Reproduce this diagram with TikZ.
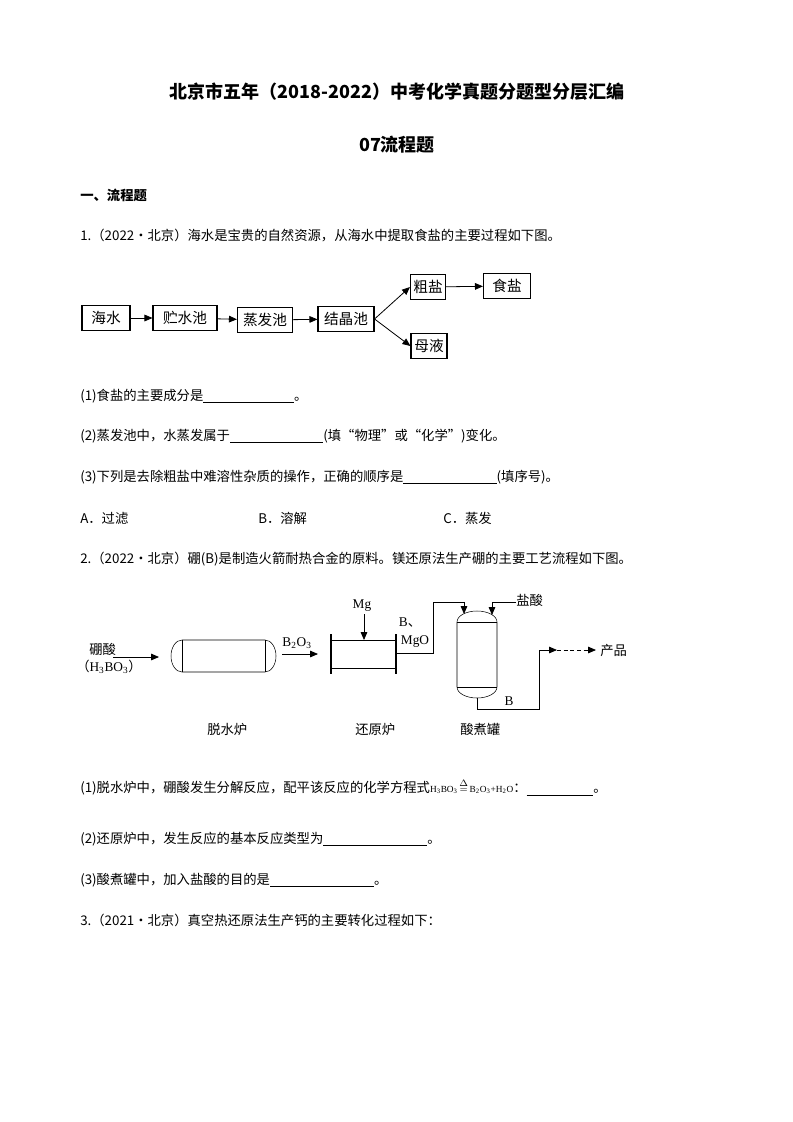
\documentclass[tikz,border=0pt]{standalone}
\usepackage{fontspec}
\setmainfont{Liberation Serif}
\newfontfamily\cjk{Noto Sans CJK SC}
\usetikzlibrary{arrows.meta}
\begin{document}
\begin{tikzpicture}[x=0.75pt,y=-0.75pt,
  box/.style={draw,thick,minimum height=19pt,inner sep=2pt,font=\cjk\fontsize{11}{12}\selectfont},
  ar/.style={-{Triangle[length=6pt,width=5pt]},line width=0.6pt},
  txt/.style={anchor=west,inner sep=0,font=\cjk\fontsize{10}{12}\selectfont},
  lbl/.style={inner sep=0,font=\fontsize{10}{12}\selectfont}]
\useasboundingbox (0,0) rectangle (793,1122);
\newcommand{\blank}[1]{\rule[-2pt]{#1}{0.5pt}}
\node[font=\cjk\bfseries\fontsize{13.5}{15}\selectfont] (t1) at (397,92) {北京市五年（2018-2022）中考化学真题分题型分层汇编};
\node[font=\cjk\bfseries\fontsize{13.5}{15}\selectfont] (t2) at (397,145) {07流程题};
\node[txt,font=\cjk\bfseries\fontsize{10}{12}\selectfont] (s1) at (80,195) {一、流程题};
\node[txt] (q1) at (80,235) {1.（2022·北京）海水是宝贵的自然资源，从海水中提取食盐的主要过程如下图。};
% diagram 1
\node[box,minimum width=48*0.75pt] (a) at (106,318) {海水};
\node[box,minimum width=64*0.75pt] (b) at (185,318) {贮水池};
\node[box,minimum width=55*0.75pt] (c) at (265,320) {蒸发池};
\node[box,minimum width=56*0.75pt] (d) at (346,319) {结晶池};
\node[box,minimum width=35*0.75pt] (e) at (428,287) {粗盐};
\node[box,minimum width=47*0.75pt] (f) at (507,286) {食盐};
\node[box,minimum width=36*0.75pt] (g) at (429,346) {母液};
\draw[ar] (a) -- (b); \draw[ar] (b) -- (c); \draw[ar] (c) -- (d);
\draw[ar] (d.east) -- (e.west); \draw[ar] (d.east) -- (g.west); \draw[ar] (e) -- (f);
\node[txt] (q11) at (80,396) {(1)食盐的主要成分是\blank{68pt}。};
\node[txt] (q12) at (80,436) {(2)蒸发池中，水蒸发属于\blank{70pt}(填“物理”或“化学”)变化。};
\node[txt] (q13) at (80,477) {(3)下列是去除粗盐中难溶性杂质的操作，正确的顺序是\blank{70pt}(填序号)。};
\node[txt] (oa) at (80,518) {A．过滤};
\node[txt] (ob) at (258,518) {B．溶解};
\node[txt] (oc) at (443,518) {C．蒸发};
\node[txt] (q2) at (80,559) {2.（2022·北京）硼(B)是制造火箭耐热合金的原料。镁还原法生产硼的主要工艺流程如下图。};
% diagram 2
\node[txt] (h1) at (89,649) {硼酸};
\node[lbl,anchor=west] (h2) at (76,667) {\cjk（\rmfamily H\textsubscript{3}BO\textsubscript{3}\cjk）};
\coordinate (h3) at (113,657);
\coordinate (h4) at (159,657);
\draw[ar] (h3) -- (h4);
\draw (182,640) -- (265,640) arc (-90:90:11 and 16) -- (182,672) arc (90:270:11 and 16);
\draw (182,640) -- (182,672) (265,640) -- (265,672);
\node[lbl] (bo) at (297,643) {B\textsubscript{2}O\textsubscript{3}};
\coordinate (p1) at (282,654); \coordinate (p2) at (318,654);
\draw[ar] (p1) -- (p2);
\draw (331,640) -- (396,640) (331,668) -- (396,668);
\draw[line width=2pt] (331,634) -- (331,674) (396,634) -- (396,674);
\node[lbl] (mg) at (362,606) {Mg};
\coordinate (m1) at (364,614); \coordinate (m2) at (364,640);
\draw[ar] (m1) -- (m2);
\node[lbl] (bl) at (410,622) {B\cjk 、};
\node[lbl] (mgo) at (415,642) {MgO};
\coordinate (r1) at (396,653); \coordinate (r2) at (464,614);
\draw[ar] (r1) -- (433,653) -- (433,602) -- (464,602) -- (r2);
\draw (457,622) -- (457,687) arc (180:0:20 and 11) -- (497,622) arc (360:180:20 and 11);
\draw (457,622) -- (497,622) (457,687) -- (497,687);
\node[txt] (hcl) at (516,600) {盐酸};
\coordinate (c1) at (516,602); \coordinate (c2) at (492,615);
\draw[ar] (c1) -- (492,602) -- (c2);
\node[lbl] (bb) at (509,701) {B};
\coordinate (o1) at (477,698); \coordinate (o2) at (557,650);
\draw[ar] (o1) -- (477,709) -- (539,709) -- (539,650) -- (o2);
\coordinate (o3) at (596,650);
\draw[ar,densely dashed] (o2) -- (o3);
\node[txt] (cp) at (600,650) {产品};
\node[txt] (l1) at (207,729) {脱水炉};
\node[txt] (l2) at (355,729) {还原炉};
\node[txt] (l3) at (460,729) {酸煮罐};
\node[txt] (q21) at (80,787) {(1)脱水炉中，硼酸发生分解反应，配平该反应的化学方程式{\rmfamily\fontsize{7}{8}\selectfont H\textsubscript{3}BO\textsubscript{3}\,$\mathop{=}\limits^{\textstyle\Delta}$\,B\textsubscript{2}O\textsubscript{3}+H\textsubscript{2}O}：\blank{50pt}。};
\node[txt] (q22) at (80,839) {(2)还原炉中，发生反应的基本反应类型为\blank{78pt}。};
\node[txt] (q23) at (80,880) {(3)酸煮罐中，加入盐酸的目的是\blank{78pt}。};
\node[txt] (q3) at (80,920) {3.（2021·北京）真空热还原法生产钙的主要转化过程如下：};
\end{tikzpicture}
\end{document}
